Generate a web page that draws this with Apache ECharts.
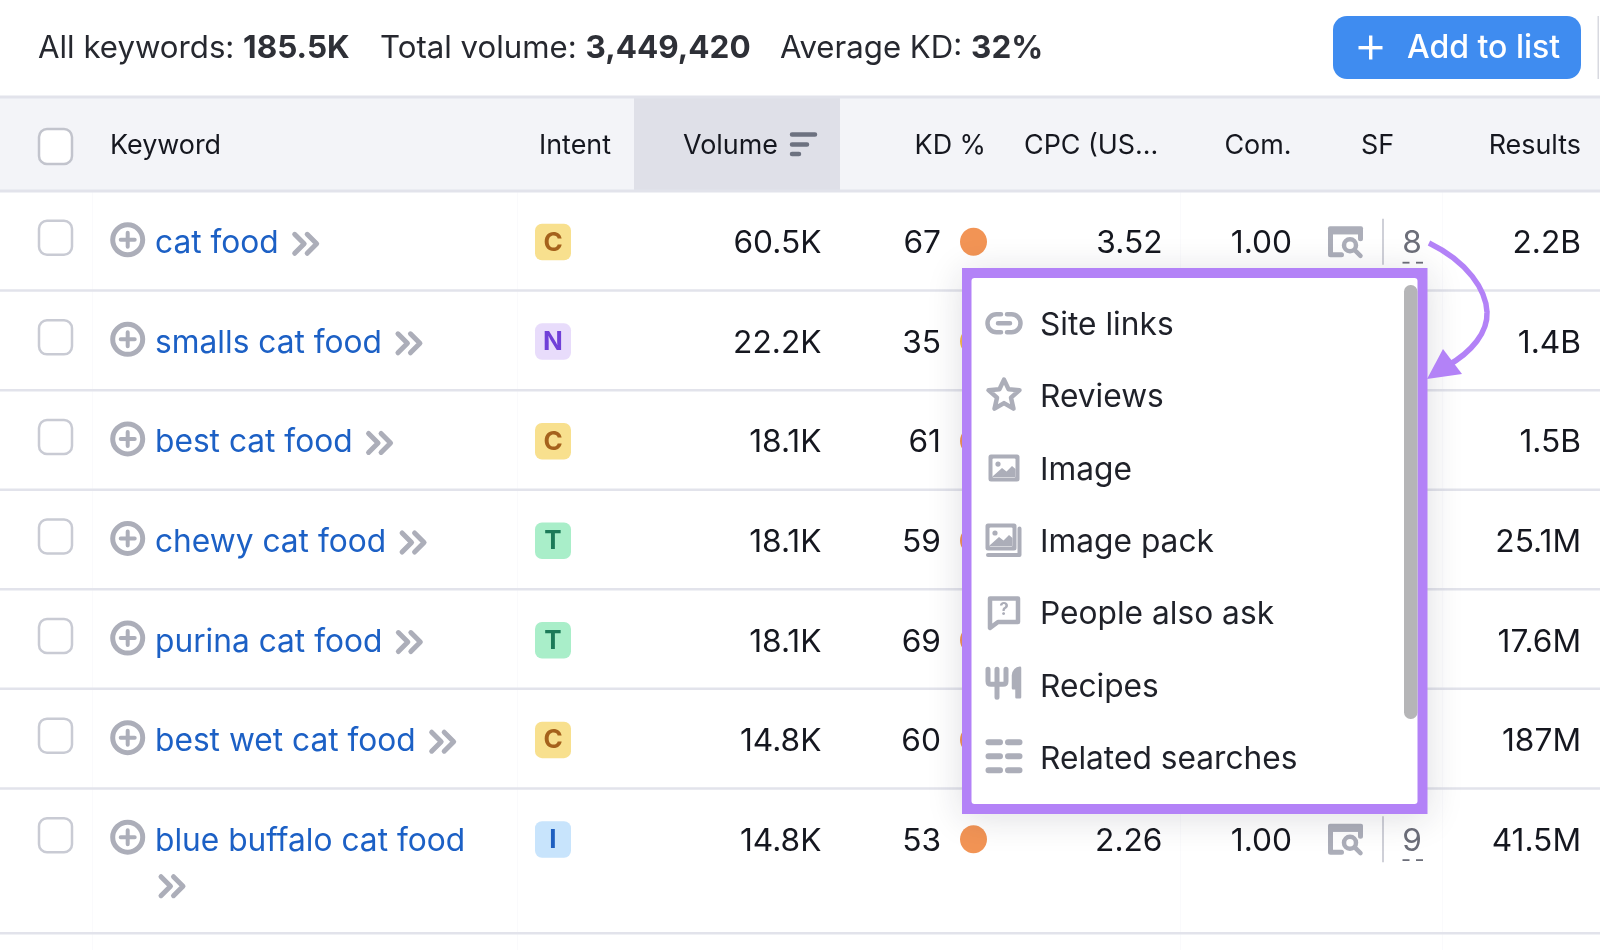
<!DOCTYPE html>
<html><head><meta charset="utf-8">
<style>html,body{margin:0;padding:0;background:#fff}#c{width:1600px;height:950px}</style>
<script src="https://cdn.jsdelivr.net/npm/echarts@6/dist/echarts.min.js"></script>
</head><body><div id="c"></div>
<script>
// ---- data ----
const summaryLabels = ['All keywords:', 'Total volume:', 'Average KD:'];
const summaryValues = ['185.5K', '3,449,420', '32%'];
const buttonLabel = 'Add to list';
const headers = ['Keyword', 'Intent', 'Volume', 'KD %', 'CPC (US...', 'Com.', 'SF', 'Results'];
const keywords = ['cat food', 'smalls cat food', 'best cat food', 'chewy cat food', 'purina cat food', 'best wet cat food', 'blue buffalo cat food'];
const intents = ['C', 'N', 'C', 'T', 'T', 'C', 'I'];
const volumes = ['60.5K', '22.2K', '18.1K', '18.1K', '18.1K', '14.8K', '14.8K'];
const kdValues = [67, 35, 61, 59, 69, 60, 53];
const cpcValues = ['3.52', null, null, null, null, null, '2.26'];
const comValues = ['1.00', null, null, null, null, null, '1.00'];
const sfCounts = ['8', null, null, null, null, null, '9'];
const resultValues = ['2.2B', '1.4B', '1.5B', '25.1M', '17.6M', '187M', '41.5M'];
const menuItems = ['Site links', 'Reviews', 'Image', 'Image pack', 'People also ask', 'Recipes', 'Related searches'];

// ---- style ----
const FONT = 'Inter, "Noto Sans", sans-serif';
const BODY = '400 31.7px ' + FONT, HEAD = '400 26.9px ' + FONT, SUMMARY = '400 31.2px ' + FONT;
const INK = '#15171f', GREY = '#acaeb9', PURPLE = '#b382f7', LINE = '#e2e3eb';
const TEXT_DY = 2;
const intentStyle = {
  C: ['#f8e08e', '#a5621c'], N: ['#e8dcfb', '#7040d8'], T: ['#a9eec9', '#1c7a58'], I: ['#c8e4fc', '#1e5fc0']
};
const X = { check: 55.5, plus: 127.7, kw: 155, intent: 553, volume: 821.5, kd: 941, dot: 973.5, cpc: 1162.5, com: 1292, sfIcon: 1345.5, sfDiv: 1383, sfNum: 1412, results: 1581 };
const headerX = [[110,'left'],[539,'left'],[683,'left'],[986,'right'],[1024,'left'],[1291.5,'right'],[1361,'left'],[1581,'right']];
const ctx = document.createElement('canvas').getContext('2d');
function tw(t, f) { ctx.font = f; return ctx.measureText(t).width; }

function text(x, y, t, font, fill, align) {
  return { type: 'text', x: x, y: y + TEXT_DY, style: { text: t, font: font, fill: fill, align: align || 'left', verticalAlign: 'middle' } };
}
function path(x, y, d, sw, color, fill) {
  return { type: 'path', x: x, y: y, shape: { pathData: d },
    style: { stroke: sw ? color : null, lineWidth: sw, fill: fill ? (fill === true ? color : fill) : null, lineCap: 'round', lineJoin: 'round' } };
}
function rect(x, y, w, h, r, fill, stroke, sw) {
  return { type: 'rect', shape: { x: x, y: y, width: w, height: h, r: r }, style: { fill: fill, stroke: stroke || null, lineWidth: sw || 0 } };
}
function checkbox(cy) { return rect(X.check - 16.5, cy - 17, 33, 34, 8, '#fff', '#c9cbd4', 2.5); }
function chevrons(cx, cy) { return path(cx, cy, 'M-12,-9.5 L-2.5,0 L-12,9.5 M0.5,-9.5 L10,0 L0.5,9.5', 5, GREY); }

function column(values, build, z) {
  return { type: 'custom', coordinateSystem: 'cartesian2d', xAxisIndex: 0, yAxisIndex: 0, silent: true, clip: false, z: z || 3,
    data: values.map((v, i) => [0, i]),
    encode: { x: 0, y: 1 },
    renderItem: function (p, api) {
      const v = values[p.dataIndex];
      if (v === null) return null;
      const cy = api.coord([0, api.value(1)])[1];
      return { type: 'group', children: build(v, cy, p.dataIndex) };
    } };
}
function rightText(values, x) { return column(values, (v, cy) => [text(x, cy, String(v), BODY, INK, 'right')]); }

const rowIndex = keywords.map((k, i) => i);
const series = [
  // header band
  { type: 'custom', coordinateSystem: 'cartesian2d', xAxisIndex: 2, yAxisIndex: 2, silent: true, clip: false, z: 1,
    data: headers.map((h, i) => [0, 0]), encode: { x: 0, y: 1 },
    renderItem: function (p, api) {
      const cy = api.coord([0, 0])[1], s = api.size([0, 1])[1];
      const h = headers[p.dataIndex], c = headerX[p.dataIndex], kids = [];
      if (p.dataIndex === 0) {
        kids.push(rect(0, cy - s / 2, 1600, s, 0, '#f3f4f8'));
        kids.push(rect(634, cy - s / 2, 206, s, 0, '#dfe0e8'));
        kids.push(rect(0, cy - s / 2 - 1.5, 1600, 3, 0, LINE));
        kids.push(rect(0, cy + s / 2 - 1.5, 1600, 3, 0, LINE));
        kids.push(rect(X.check - 16.5, cy - 15, 33, 35, 8, '#fff', '#c2c4cd', 2.5));
        kids.push(path(803, cy, 'M-11,-9.5 H12 M-11,0.5 H4 M-11,10 H-4', 4.5, '#6d7280'));
      }
      kids.push(text(c[0], cy, h, HEAD, INK, c[1]));
      return { type: 'group', children: kids };
    } },
  // row separators
  column(rowIndex, (v, cy, i) => {
    const s = 99.57, y = i === keywords.length - 1 ? cy + 94 : cy + s / 2 - 1;
    return [rect(0, y - 1.25, 1600, 2.5, 0, LINE)];
  }, 2),
  // check boxes
  column(rowIndex, (v, cy) => [checkbox(cy - 4)]),
  // keyword links with add icon and chevrons
  column(keywords, (v, cy, i) => {
    const w = tw(v, BODY), last = i === keywords.length - 1;
    return [
      { type: 'circle', shape: { cx: X.plus, cy: cy - 2, r: 15 }, style: { fill: '#fff', stroke: GREY, lineWidth: 5 } },
      path(X.plus, cy - 2, 'M-7,0 H7 M0,-7 V7', 4, GREY),
      text(X.kw, cy, v, BODY, '#1c60c5'),
      last ? chevrons(173, cy + 47) : chevrons(X.kw + w + 28, cy + 2)
    ];
  }),
  // intent badges
  column(intents, (v, cy) => [
    rect(X.intent - 18, cy - 18, 36, 36.5, 7, intentStyle[v][0]),
    text(X.intent, cy - 1, v, '700 26px ' + FONT, intentStyle[v][1], 'center')
  ]),
  rightText(volumes, X.volume),
  // keyword difficulty
  column(kdValues, (v, cy) => [
    text(X.kd, cy, String(v), BODY, INK, 'right'),
    { type: 'ellipse', shape: { cx: X.dot, cy: cy, rx: 13.5, ry: 14 }, style: { fill: v < 40 ? '#f8bd4b' : '#f29455' } }
  ]),
  rightText(cpcValues, X.cpc),
  rightText(comValues, X.com),
  // SERP feature count
  column(sfCounts, (v, cy) => [
    rect(X.sfIcon - 17.5, cy - 15.5, 35, 8, 2, GREY),
    path(X.sfIcon, cy, 'M-15,-10 V13 H-4 M15,-10 V-3 M-15,-10 H15', 5, GREY),
    { type: 'circle', shape: { cx: X.sfIcon + 4.5, cy: cy + 3.5, r: 6 }, style: { fill: '#fff', stroke: GREY, lineWidth: 4.5 } },
    path(X.sfIcon, cy, 'M9.5,8.5 L15,14', 4.5, GREY),
    rect(X.sfDiv - 1, cy - 23, 2, 46, 0, '#cfd0d8'),
    text(X.sfNum, cy, v, BODY, '#6c6e79', 'center'),
    rect(X.sfNum - 9.5, cy + 20, 7, 1.8, 0, '#6c6e79'),
    rect(X.sfNum + 4, cy + 20, 7, 1.8, 0, '#6c6e79')
  ]),
  rightText(resultValues, X.results),
  // popup menu
  { type: 'custom', coordinateSystem: 'cartesian2d', xAxisIndex: 1, yAxisIndex: 1, silent: true, clip: false, z: 12,
    data: menuItems.map((m, i) => [0, i]), encode: { x: 0, y: 1 },
    renderItem: function (p, api) {
      const cy = api.coord([0, api.value(1)])[1], cx = 1004;
      const white = '#fff';
      const picture = (ox, oy) => [
        rect(cx + ox - 15.5, cy + oy - 13.5, 31, 27, 2.5, GREY),
        rect(cx + ox - 11.5, cy + oy - 9.5, 23, 19, 1, white),
        { type: 'circle', shape: { cx: cx + ox - 6, cy: cy + oy - 4, r: 2.6 }, style: { fill: GREY } },
        path(cx + ox, cy + oy, 'M-11.5,8.5 L-2,0 L2.5,3.5 L8,-2 L11.5,1 V9 H-11.5 Z', 0, GREY, true)
      ];
      const icons = [
        () => [path(cx, cy, 'M-3,-9 H-7.5 A9,9 0 0 0 -7.5,9 H-3 M3,-9 H7.5 A9,9 0 0 1 7.5,9 H3 M-6,0 H6', 4.5, GREY)],
        () => [path(cx, cy - 1, 'M0,-15 L4.5,-5.5 L15.5,-4.5 L7,3 L9.5,14 L0,8.5 L-9.5,14 L-7,3 L-15.5,-4.5 L-4.5,-5.5 Z', 4.5, GREY)],
        () => picture(0, 0),
        () => picture(-3, -3.5).concat([path(cx, cy, 'M15.5,-12 V14.5 H-16', 4, GREY)]),
        () => [path(cx, cy, 'M-14,-14.5 H14 V9 H-6 L-14,15 Z', 4.5, GREY),
               text(cx, cy - 5, '?', '700 17px ' + FONT, GREY, 'center')],
        () => [path(cx, cy - 2, 'M-16,-14 V-2 Q-16,1 -13,1 H-1 Q2,1 2,-2 V-14 M-7,-14 V14', 5, GREY),
               path(cx, cy - 2, 'M12.5,14 V5 H9 V-8 Q10,-15 16,-15.5 V14 Z', 2.5, GREY, true)],
        () => [path(cx, cy - 1.5, 'M-15.5,-14 H-4 M4,-14 H15.5 M-15.5,0 H-4 M4,0 H15.5 M-15.5,14 H-4 M4,14 H15.5', 6, GREY)]
      ];
      return { type: 'group', children: icons[p.dataIndex]().concat([
        text(1040, cy, menuItems[p.dataIndex], BODY, '#1f2129')
      ]) };
    } }
];

// ---- top strip, popup frame, arrow ----
const BOLD = '700 31.5px ' + FONT;
const gfx = [];
[38, 380, 780].forEach((x, i) => {
  const a = summaryLabels[i] + ' ';
  gfx.push({ type: 'text', x: x, y: 47 + TEXT_DY, z: 3, style: { text: a, font: SUMMARY, fill: '#26282f', verticalAlign: 'middle' } });
  gfx.push({ type: 'text', x: x + tw(a, SUMMARY), y: 47 + TEXT_DY, z: 3, style: { text: summaryValues[i], font: BOLD, fill: '#2e3037', verticalAlign: 'middle' } });
});
gfx.push({ type: 'rect', z: 3, shape: { x: 1333, y: 16, width: 248, height: 63, r: 14 }, style: { fill: '#3f8cf0' } });
gfx.push({ type: 'rect', z: 4, shape: { x: 1358.5, y: 46, width: 24, height: 3.4 }, style: { fill: '#fff' } });
gfx.push({ type: 'rect', z: 4, shape: { x: 1369, y: 35.5, width: 3.4, height: 24 }, style: { fill: '#fff' } });
gfx.push({ type: 'text', z: 4, x: 1407, y: 46 + TEXT_DY, style: { text: buttonLabel, font: '500 32px ' + FONT, fill: '#fff', verticalAlign: 'middle' } });
gfx.push({ type: 'rect', z: 3, shape: { x: 1597.5, y: 16, width: 1.5, height: 63 }, style: { fill: '#d8d9e0' } });
[92, 517, 1180, 1442].forEach(x => gfx.push({ type: 'rect', z: 0, shape: { x: x, y: 192, width: 1, height: 758 }, style: { fill: '#fafafc' } }));
gfx.push({ type: 'rect', z: 9, shape: { x: 962, y: 268, width: 465.5, height: 546 }, style: { fill: PURPLE, shadowBlur: 34, shadowColor: 'rgba(30,30,50,0.14)', shadowOffsetY: 4 } });
gfx.push({ type: 'rect', z: 10, shape: { x: 971.5, y: 278, width: 446, height: 526, r: 3 }, style: { fill: '#fff' } });
gfx.push({ type: 'rect', z: 11, shape: { x: 1404, y: 285, width: 13.5, height: 434, r: 6.5 }, style: { fill: '#b5b5b7' } });
gfx.push({ type: 'bezierCurve', z: 13, shape: { x1: 1429, y1: 243, cpx1: 1468, cpy1: 262, cpx2: 1486, cpy2: 290, x2: 1487, y2: 312 }, style: { stroke: PURPLE, lineWidth: 5.5, fill: null } });
gfx.push({ type: 'bezierCurve', z: 13, shape: { x1: 1487, y1: 312, cpx1: 1488, cpy1: 332, cpx2: 1472, cpy2: 352, x2: 1447, y2: 366 }, style: { stroke: PURPLE, lineWidth: 5.5, fill: null } });
gfx.push({ type: 'polygon', z: 13, shape: { points: [[1427, 379], [1443, 349], [1462, 374]] }, style: { fill: PURPLE } });

const hiddenX = i => ({ type: 'value', gridIndex: i, min: 0, max: 1600, show: false });
const hiddenY = (i, d) => ({ type: 'category', gridIndex: i, data: d, inverse: true, show: false });
const chart = echarts.init(document.getElementById('c'), null, { renderer: 'canvas' });
chart.setOption({
  animation: false,
  backgroundColor: '#fff',
  tooltip: { show: false },
  grid: [
    { left: 0, right: 0, top: 192, height: 697 },
    { left: 0, right: 0, top: 287, height: 507 },
    { left: 0, right: 0, top: 97, height: 94 }
  ],
  xAxis: [hiddenX(0), hiddenX(1), hiddenX(2)],
  yAxis: [hiddenY(0, keywords), hiddenY(1, menuItems), hiddenY(2, ['header'])],
  graphic: { elements: gfx },
  series: series
});
</script></body></html>
